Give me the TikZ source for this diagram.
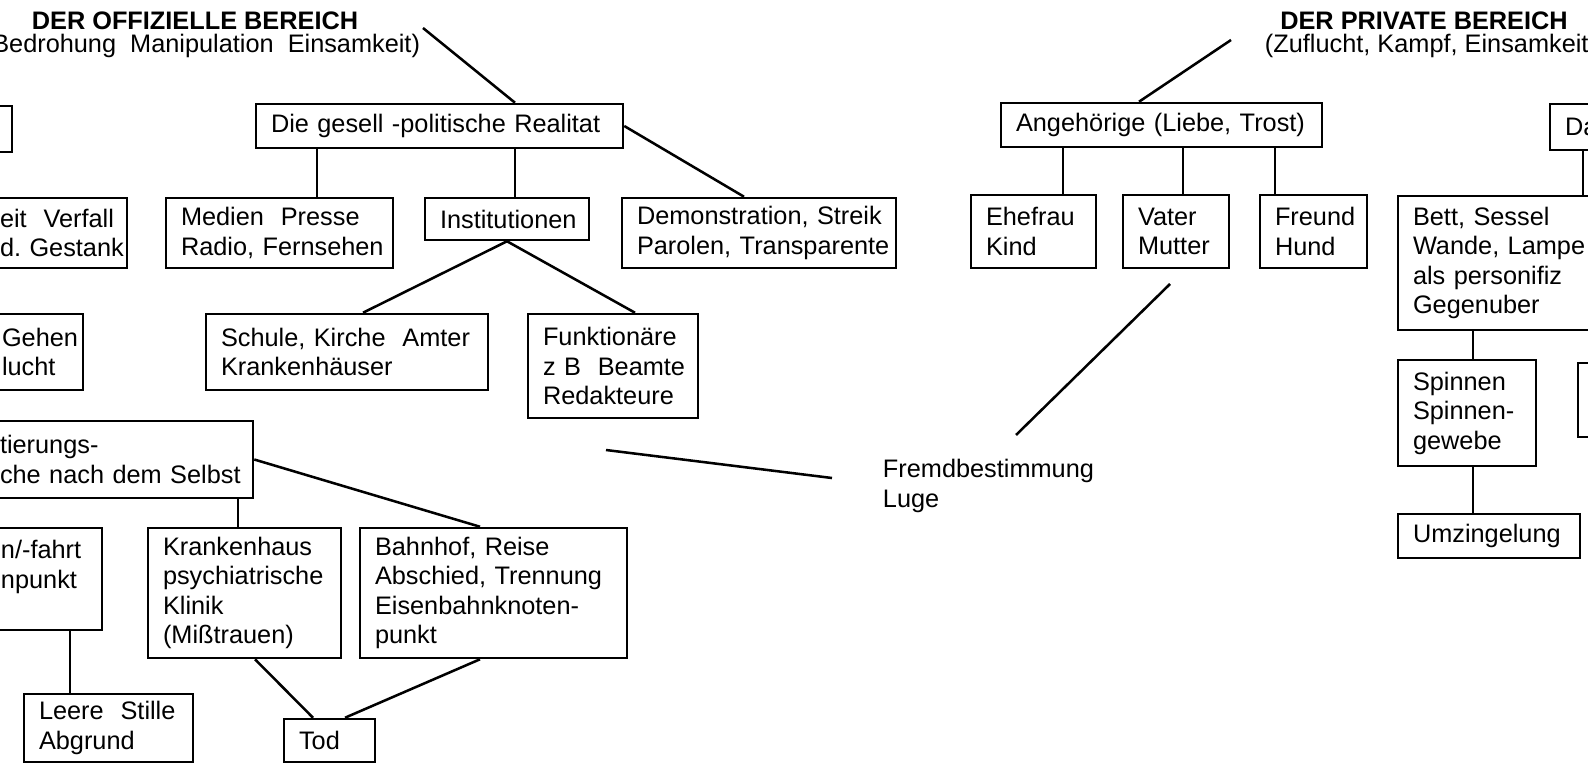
\documentclass[tikz,border=0pt]{standalone}
\usepackage{fontspec}
\setmainfont{Liberation Sans}
\hyphenpenalty=10000
\exhyphenpenalty=10000
\def\px{0.025cm}
% box from (x1,y1) to (x2,y2) in pixels, text set flush left
\newcommand\kbox[6]{%
  \node[kasten, minimum width={(#4-#2)*\px}, minimum height={(#5-#3)*\px},
        text width={(#4-#2-30)*\px}] (#1) at ({(#2+#4)/2},{(#3+#5)/2}) {#6};}
\begin{document}
\begin{tikzpicture}[x=0.025cm, y=-0.025cm, line width=1.8pt,
    kasten/.style={draw, rectangle, align=left, inner xsep=0.375cm, inner ysep=0pt,
      font=\fontsize{18}{21}\selectfont},
    titel/.style={font=\fontsize{18}{21}\selectfont\bfseries},
    unter/.style={font=\fontsize{18}{21}\selectfont}]
    \useasboundingbox (0,0) rectangle (1588,769);
    \clip (0,0) rectangle (1588,769);
    % headings
    \node[titel] (offiz) at (195,21) {DER OFFIZIELLE BEREICH};
    \node[unter, anchor=east] (offsub) at (426,46) {(Bedrohung~~Manipulation~~Einsamkeit)};
    \node[titel] (priv) at (1424,21) {DER PRIVATE BEREICH};
    \node[unter, anchor=west] (privsub) at (1259,46) {(Zuflucht,~Kampf,~Einsamkeit};
    % left side, cut off
    \kbox{lbA}{-100}{106}{12}{152}{}
    \kbox{lbB}{-15}{198}{127}{268}{eit~~Verfall\\d.~Gestank}
    \kbox{lbC}{-13}{314}{83}{390}{Gehen\\lucht}
    \kbox{lbD}{-15}{421}{253}{498}{tierungs-\\che~nach~dem~Selbst}
    \kbox{lbE}{-14}{528}{102}{630}{n/-fahrt\\npunkt\\\mbox{}}
    % official part
    \kbox{real}{256}{104}{623}{148}{Die~gesell~-politische~Realitat}
    \kbox{med}{166}{198}{393}{268}{Medien~~Presse\\Radio,~Fernsehen}
    \kbox{inst}{425}{198}{589}{240}{Institutionen}
    \kbox{demo}{622}{198}{896}{268}{Demonstration,~Streik\\Parolen,~Transparente}
    \kbox{schule}{206}{314}{488}{390}{Schule,~Kirche~~Amter\\Krankenhäuser}
    \kbox{funkt}{528}{314}{698}{418}{Funktionäre\\z~B~~Beamte\\Redakteure}
    \kbox{kh}{148}{528}{341}{658}{Krankenhaus\\psychiatrische\\Klinik\\(Mißtrauen)}
    \kbox{bahn}{360}{528}{627}{658}{Bahnhof,~Reise\\Abschied,~Trennung\\Eisenbahnknoten-\\punkt}
    \kbox{leere}{24}{694}{193}{762}{Leere~~Stille\\Abgrund}
    \kbox{tod}{284}{719}{375}{762}{Tod}
    % private part
    \kbox{angeh}{1001}{103}{1322}{147}{Angehörige~(Liebe,~Trost)}
    \kbox{ehe}{971}{195}{1096}{268}{Ehefrau\\Kind}
    \kbox{vater}{1123}{195}{1229}{268}{Vater\\Mutter}
    \kbox{freund}{1260}{195}{1367}{268}{Freund\\Hund}
    \kbox{da}{1550}{104}{1700}{150}{Da}
    \kbox{bett}{1398}{196}{1700}{330}{Bett,~Sessel\\Wande,~Lampe\\als~personifiz\\Gegenuber}
    \kbox{spinn}{1398}{360}{1536}{466}{Spinnen\\Spinnen-\\gewebe}
    \kbox{rb}{1578}{363}{1700}{437}{}
    \kbox{umz}{1398}{514}{1580}{558}{Umzingelung}
    \node[unter, align=left, anchor=west] (fremd) at (877,486) {Fremdbestimmung\\Luge};
    % free line ends
    \coordinate (o1) at (423,28);
    \coordinate (p1) at (1231,40);
    \coordinate (fa) at (606,450);
    \coordinate (fb) at (832,478);
    \coordinate (ga) at (1016,435);
    \coordinate (gb) at (1170,284);
    % connectors
    \draw (o1) -- (real.north -| 515,0);
    \draw (real.east) -- (demo.north -| 744,0);
    \draw (real.south -| 317,0) -- (med.north -| 317,0);
    \draw (real.south -| 515,0) -- (inst.north -| 515,0);
    \draw (inst.south) -- (schule.north -| 363,0);
    \draw (inst.south) -- (funkt.north -| 635,0);
    \draw (lbD.east) -- (bahn.north -| 480,0);
    \draw (lbD.south -| 238,0) -- (kh.north -| 238,0);
    \draw (lbE.south -| 70,0) -- (leere.north -| 70,0);
    \draw (kh.south -| 255,0) -- (tod.north -| 313,0);
    \draw (bahn.south -| 480,0) -- (tod.north -| 345,0);
    \draw (fa) -- (fb);
    \draw (ga) -- (gb);
    \draw (p1) -- (angeh.north -| 1139,0);
    \foreach \k/\xk in {ehe/1063, vater/1183, freund/1275}
    \draw (angeh.south -| \xk,0) -- (\k.north -| \xk,0);
    \draw (da.south -| 1583,0) -- (bett.north -| 1583,0);
    \draw (bett.south -| 1473,0) -- (spinn.north -| 1473,0);
    \draw (spinn.south -| 1473,0) -- (umz.north -| 1473,0);
\end{tikzpicture}
\end{document}
